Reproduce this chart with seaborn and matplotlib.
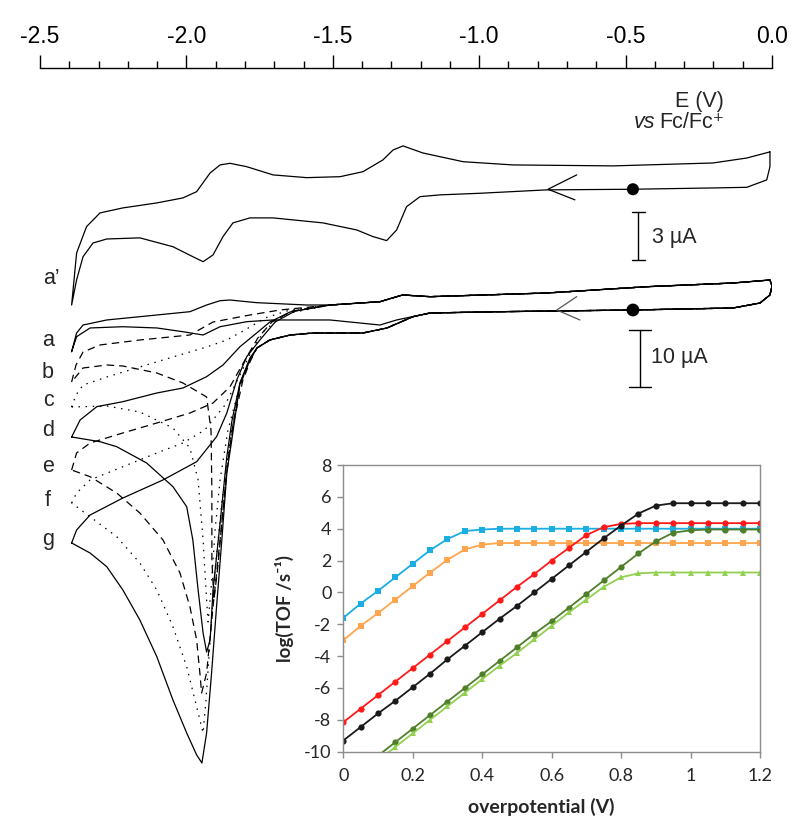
import numpy as np
import pandas as pd
import matplotlib
matplotlib.use("Agg")
import matplotlib.pyplot as plt
from matplotlib.ticker import FixedLocator, FixedFormatter
import seaborn as sns

sns.set_theme(style="white")
plt.rcParams["font.family"] = ["Liberation Sans", "DejaVu Sans"]
plt.rcParams["axes.unicode_minus"] = False

# ---------------- top potential axis (V vs Fc/Fc+) ----------------
E_ticks = [-2.5, -2.0, -1.5, -1.0, -0.5, 0.0]
E_tick_labels = ["-2.5", "-2.0", "-1.5", "-1.0", "-0.5", "0.0"]
E_minor = [-2.4, -2.3, -2.2, -2.1, -1.9, -1.8, -1.7, -1.6, -1.4, -1.3, -1.2, -1.1,
           -0.9, -0.8, -0.7, -0.6, -0.4, -0.3, -0.2, -0.1]

# ---------------- CV a' (current in uA, 3 uA scale) ----------------
a1_E = [-0.007, -0.086, -0.202, -0.543, -0.885, -1.055, -1.192, -1.260, -1.294, -1.329,
        -1.397, -1.475, -1.589, -1.704, -1.794, -1.851, -1.885, -1.919, -1.965, -2.012,
        -2.101, -2.217, -2.295, -2.341, -2.375, -2.392,
        -2.375, -2.353, -2.319, -2.272, -2.159, -2.046, -1.978, -1.943, -1.909, -1.875,
        -1.841, -1.783, -1.704, -1.534, -1.418, -1.363, -1.316, -1.282, -1.248, -1.202,
        -1.134, -0.997, -0.770, -0.475, -0.202, -0.086, -0.018, -0.007, -0.007]
a1_I = [2.32, 1.94, 1.63, 1.45, 1.51, 1.71, 2.25, 2.69, 2.44, 1.82,
        1.09, 0.78, 0.72, 0.89, 1.40, 1.61, 1.51, 1.01, -0.15, -0.54,
        -0.85, -1.16, -1.47, -2.32, -3.96, -7.19,
        -5.63, -4.19, -3.34, -3.09, -3.02, -3.57, -4.19, -4.50, -4.08, -2.94,
        -2.09, -1.78, -1.78, -2.09, -2.53, -2.94, -3.19, -2.53, -1.08, -0.46,
        -0.35, -0.25, -0.04, 0.00, 0.08, 0.12, 0.58, 1.40, 2.32]

# ---------------- CVs a-g (current in uA, 10 uA scale) ----------------
# shared anodic return path and cathodic start (curves overlap there)
ret_common_E = [-1.510, -1.339, -1.262, -1.168, -0.768, -0.427, -0.133, -0.007, 0.0, -0.007, -0.041]
ret_common_I = [0.88, 1.46, 2.65, 2.35, 3.00, 4.11, 4.76, 5.29, 4.23, 2.65, 1.23]
fwd_common_E = [-0.133, -0.475, -0.929, -1.168]
fwd_common_I = [0.35, 0.00, -0.30, -0.53]
fwd_wave_E = [-1.226, -1.315, -1.397, -1.568, -1.646, -1.715, -1.759]
fwd_wave_I = [-1.18, -3.17, -4.06, -4.06, -4.41, -5.29, -6.70]

a_ret_E = [-2.392, -2.375, -2.353, -2.272, -2.159, -1.988, -1.931, -1.885, -1.851, -1.760, -1.589]
a_ret_I = [-7.35, -4.06, -2.65, -1.76, -1.18, -0.30, 0.88, 1.64, 1.76, 1.29, 0.88]
a_fwd_E = [-1.282, -1.339, -1.510, -1.704, -1.794, -1.885, -1.943, -2.012, -2.101, -2.217, -2.329, -2.375, -2.392]
a_fwd_I = [-1.76, -2.65, -1.76, -1.76, -2.06, -2.95, -4.41, -3.83, -3.17, -2.95, -3.17, -4.71, -7.35]

b_ret_E = [-2.392, -2.377, -2.353, -2.295, -2.159, -1.988, -1.909, -1.783, -1.680]
b_ret_I = [-12.70, -9.70, -7.41, -6.17, -5.29, -4.41, -2.12, -0.88, 0.00]
b_fwd_E = [-1.783, -1.807, -1.837, -1.858, -1.875, -1.892, -1.906, -1.913, -1.913, -1.916, -1.931,
           -2.012, -2.101, -2.217, -2.272, -2.353, -2.392]
b_fwd_I = [-9.17, -12.35, -19.40, -26.46, -35.27, -44.97, -51.15, -44.09, -31.75, -21.16, -15.34,
           -12.87, -11.11, -9.88, -9.70, -10.23, -12.70]

c_ret_E = [-2.392, -2.377, -2.353, -2.272, -2.159, -2.046, -1.931, -1.862, -1.800, -1.732, -1.646]
c_ret_I = [-17.11, -14.99, -13.23, -11.82, -10.05, -8.29, -6.53, -5.29, -3.53, -1.41, 0.00]
c_fwd_E = [-1.783, -1.817, -1.858, -1.885, -1.902, -1.916, -1.926, -1.931, -1.943, -1.960, -1.988,
           -2.046, -2.159, -2.272, -2.392]
c_fwd_I = [-8.82, -13.23, -21.16, -29.98, -38.80, -49.38, -55.03, -51.15, -40.56, -29.98, -24.34,
           -20.81, -17.99, -16.93, -17.11]

d_ret_E = [-2.392, -2.363, -2.306, -2.217, -2.101, -2.012, -1.931, -1.875, -1.817, -1.760, -1.715, -1.646]
d_ret_I = [-22.40, -19.40, -17.05, -16.17, -14.64, -13.76, -11.76, -9.70, -6.47, -4.06, -2.12, -0.35]
d_fwd_E = [-1.783, -1.817, -1.844, -1.862, -1.885, -1.909, -1.919, -1.931, -1.943, -1.960, -1.978,
           -1.999, -2.046, -2.136, -2.238, -2.295, -2.392]
d_fwd_I = [-8.82, -12.87, -19.40, -25.87, -37.57, -49.38, -58.20, -60.32, -56.97, -49.38, -40.56,
           -34.69, -31.16, -26.98, -24.11, -23.23, -22.40]

e_ret_E = [-2.392, -2.375, -2.329, -2.217, -2.101, -1.988, -1.909, -1.851, -1.800, -1.756, -1.708, -1.639]
e_ret_I = [-28.22, -25.22, -23.46, -21.69, -19.93, -18.17, -16.40, -13.53, -8.82, -4.94, -2.12, -0.18]
e_fwd_E = [-1.783, -1.817, -1.844, -1.865, -1.885, -1.909, -1.931, -1.948, -1.954, -1.965, -1.988,
           -2.022, -2.080, -2.159, -2.238, -2.329, -2.392]
e_fwd_I = [-8.82, -13.23, -21.16, -29.98, -40.56, -52.33, -64.02, -67.55, -64.02, -58.20, -52.33,
           -46.38, -40.56, -35.80, -32.28, -29.40, -28.22]

f_ret_E = [-2.392, -2.375, -2.329, -2.217, -2.101, -2.012, -1.937, -1.868, -1.817, -1.776, -1.732, -1.663]
f_ret_I = [-34.04, -32.28, -29.98, -27.64, -25.22, -23.46, -21.16, -16.75, -11.46, -7.05, -3.53, -0.71]
f_fwd_E = [-1.783, -1.817, -1.851, -1.878, -1.902, -1.919, -1.933, -1.943, -1.965, -1.999, -2.046,
           -2.101, -2.159, -2.238, -2.329, -2.392]
f_fwd_I = [-8.82, -13.23, -22.93, -33.51, -45.86, -58.20, -68.78, -74.60, -69.96, -62.91, -55.85,
           -49.38, -44.62, -39.98, -36.46, -34.04]

g_ret_E = [-2.392, -2.375, -2.329, -2.217, -2.080, -1.965, -1.897, -1.862, -1.828, -1.794, -1.749, -1.697, -1.629]
g_ret_I = [-41.09, -38.80, -36.16, -33.16, -29.98, -26.76, -22.35, -18.17, -12.35, -8.24, -5.29, -2.12, -0.18]
g_fwd_E = [-1.783, -1.817, -1.845, -1.862, -1.879, -1.897, -1.914, -1.931, -1.947, -1.965, -1.999,
           -2.046, -2.101, -2.159, -2.217, -2.272, -2.329, -2.392]
g_fwd_I = [-8.47, -12.87, -22.93, -28.75, -40.56, -52.33, -64.02, -74.60, -79.89, -78.48, -74.60,
           -68.78, -61.15, -54.67, -49.38, -45.27, -42.86, -41.09]

start_E = -0.475            # starting potential (black dot)
scale_a1_uA = 3
scale_ag_uA = 10
cv_labels = ["a\u2019", "a", "b", "c", "d", "e", "f", "g"]

# ---------------- inset: log(TOF) vs overpotential ----------------
overpotential = [0.0, 0.05, 0.1, 0.15, 0.2, 0.25, 0.3, 0.35, 0.4, 0.45, 0.5, 0.55, 0.6,
                 0.65, 0.7, 0.75, 0.8, 0.85, 0.9, 0.95, 1.0, 1.05, 1.1, 1.15, 1.2]
tof_cyan = [-1.6, -0.7, 0.1, 0.95, 1.8, 2.65, 3.35, 3.85, 3.95, 4.0, 4.0, 4.0, 4.0,
            4.0, 4.0, 4.0, 4.0, 4.0, 4.0, 4.0, 4.0, 4.0, 4.0, 4.0, 4.0]
tof_orange = [-3.0, -2.1, -1.3, -0.45, 0.4, 1.25, 2.05, 2.7, 3.0, 3.1, 3.1, 3.1, 3.1,
              3.1, 3.1, 3.1, 3.1, 3.1, 3.1, 3.1, 3.1, 3.1, 3.1, 3.1, 3.1]
tof_red = [-8.15, -7.3, -6.45, -5.6, -4.75, -3.9, -3.05, -2.2, -1.35, -0.5, 0.35, 1.15, 2.0,
           2.8, 3.6, 4.1, 4.3, 4.35, 4.35, 4.35, 4.35, 4.35, 4.35, 4.35, 4.35]
tof_black = [-9.3, -8.45, -7.6, -6.8, -5.95, -5.1, -4.2, -3.35, -2.5, -1.65, -0.85, 0.0, 0.85,
             1.7, 2.55, 3.4, 4.2, 4.95, 5.45, 5.6, 5.6, 5.6, 5.6, 5.6, 5.6]
tof_dkgreen = [np.nan, np.nan, -10.25, -9.4, -8.55, -7.7, -6.85, -6.0, -5.15, -4.3, -3.45, -2.6, -1.8,
               -0.95, -0.1, 0.75, 1.6, 2.45, 3.2, 3.75, 3.9, 3.95, 3.95, 3.95, 3.95]
tof_ltgreen = [np.nan, np.nan, -10.55, -9.7, -8.85, -8.0, -7.15, -6.3, -5.45, -4.6, -3.8, -2.95, -2.1,
               -1.25, -0.45, 0.35, 0.95, 1.2, 1.25, 1.25, 1.25, 1.25, 1.25, 1.25, 1.25]
inset_xticks = [0.0, 0.2, 0.4, 0.6, 0.8, 1.0, 1.2]
inset_xticklabels = ["0", "0.2", "0.4", "0.6", "0.8", "1", "1.2"]
inset_yticks = [-10, -8, -6, -4, -2, 0, 2, 4, 6, 8]
inset_yticklabels = ["-10", "-8", "-6", "-4", "-2", "0", "2", "4", "6", "8"]

# ======================= figure =======================
W, H = 800, 831
fig = plt.figure(figsize=(W / 100, H / 100), dpi=100)


def fx(px):
    return px / W


def fy(py):
    return 1 - py / H


rect = [fx(40), fy(831), fx(772) - fx(40), fy(68) - fy(831)]
ax = fig.add_axes(rect)
ax.set_xlim(-2.5, 0.0)
ax.set_ylim(-91.89, 42.68)
ax.patch.set_alpha(0)
for s in ["left", "right", "bottom"]:
    ax.spines[s].set_visible(False)
ax.spines["top"].set_color("black")
ax.spines["top"].set_linewidth(1.0)
ax.xaxis.set_ticks_position("top")
ax.xaxis.set_major_locator(FixedLocator(E_ticks))
ax.xaxis.set_major_formatter(FixedFormatter(E_tick_labels))
ax.xaxis.set_minor_locator(FixedLocator(E_minor))
ax.tick_params(axis="x", which="major", direction="out", length=9.5, width=1.0, pad=5,
               labelsize=16.5, colors="black", top=True, bottom=False, labeltop=True, labelbottom=False)
ax.tick_params(axis="x", which="minor", direction="out", length=4.7, width=1.0,
               colors="black", top=True, bottom=False)
ax.set_yticks([])
ax.set_xlabel("")
ax.set_ylabel("")

ax2 = fig.add_axes(rect)
ax2.set_xlim(-2.5, 0.0)
ax2.set_ylim(-39.86, 7.53)
ax2.axis("off")
ax2.patch.set_alpha(0)

LW = 0.9
sns.lineplot(x=np.array(a1_E), y=np.array(a1_I), sort=False, estimator=None, ax=ax2,
             color="black", linewidth=LW)

dash = (0, (6, 4))
dot = (0, (1.2, 4.5))
curves = [
    (a_ret_E + ret_common_E + fwd_common_E + a_fwd_E, a_ret_I + ret_common_I + fwd_common_I + a_fwd_I, "-"),
    (b_ret_E + ret_common_E + fwd_common_E + fwd_wave_E + b_fwd_E, b_ret_I + ret_common_I + fwd_common_I + fwd_wave_I + b_fwd_I, dash),
    (c_ret_E + ret_common_E + fwd_common_E + fwd_wave_E + c_fwd_E, c_ret_I + ret_common_I + fwd_common_I + fwd_wave_I + c_fwd_I, dot),
    (d_ret_E + ret_common_E + fwd_common_E + fwd_wave_E + d_fwd_E, d_ret_I + ret_common_I + fwd_common_I + fwd_wave_I + d_fwd_I, "-"),
    (e_ret_E + ret_common_E + fwd_common_E + fwd_wave_E + e_fwd_E, e_ret_I + ret_common_I + fwd_common_I + fwd_wave_I + e_fwd_I, dash),
    (f_ret_E + ret_common_E + fwd_common_E + fwd_wave_E + f_fwd_E, f_ret_I + ret_common_I + fwd_common_I + fwd_wave_I + f_fwd_I, dot),
    (g_ret_E + ret_common_E + fwd_common_E + fwd_wave_E + g_fwd_E, g_ret_I + ret_common_I + fwd_common_I + fwd_wave_I + g_fwd_I, "-"),
]
for E, I, ls in curves:
    sns.lineplot(x=np.array(E), y=np.array(I), sort=False, estimator=None, ax=ax,
                 color="black", linewidth=LW, linestyle=ls)

# start markers
sns.scatterplot(x=[start_E], y=[0.0], ax=ax2, color="black", s=75, edgecolor="none", zorder=5)
sns.scatterplot(x=[start_E], y=[0.0], ax=ax, color="black", s=85, edgecolor="none", zorder=5)

# scan direction arrows
ax2.plot([-0.667, -0.765, -0.673], [0.89, 0.0, -0.66], color="black", lw=0.9)
ax.plot([-0.667, -0.735, -0.656], [2.35, 0.0, -1.76], color="#555555", lw=0.9)

# scale bars
xb1 = -0.4566
ax2.plot([xb1, xb1], [-1.39, -1.39 - scale_a1_uA], color="black", lw=1.0)
for yy in [-1.39, -1.39 - scale_a1_uA]:
    ax2.plot([xb1 - 0.023, xb1 + 0.023], [yy, yy], color="black", lw=1.0)
xb2 = -0.4508
ax.plot([xb2, xb2], [-3.53, -3.53 - scale_ag_uA], color="black", lw=1.0)
for yy in [-3.53, -3.53 - scale_ag_uA]:
    ax.plot([xb2 - 0.0365, xb2 + 0.0365], [yy, yy], color="black", lw=1.0)

fig.text(fx(652), fy(237), "3 \u00b5A", fontsize=15.5, ha="left", va="center")
fig.text(fx(651), fy(357), "10 \u00b5A", fontsize=15.5, ha="left", va="center")
fig.text(fx(699), fy(101), "E (V)", fontsize=15.5, ha="center", va="center")
fig.text(fx(655), fy(122), "vs", fontsize=15.5, ha="right", va="center", style="italic")
fig.text(fx(659), fy(122), "Fc/Fc\u207a", fontsize=15.5, ha="left", va="center")

# curve labels
label_y = [278, 341, 373, 401, 431, 466, 500, 540]
for lab, yy in zip(cv_labels, label_y):
    if lab == "a\u2019":
        fig.text(fx(43), fy(yy), lab, fontsize=15.5, ha="left", va="center")
    else:
        fig.text(fx(48), fy(yy), lab, fontsize=15.5, ha="center", va="center")

# ======================= inset =======================
ax_in = fig.add_axes([fx(343.3), fy(751.7), fx(760) - fx(343.3), fy(465) - fy(751.7)])
order = ["cyan", "orange", "red", "black", "dkgreen", "ltgreen"]
series_vals = {"cyan": tof_cyan, "orange": tof_orange, "red": tof_red,
               "black": tof_black, "dkgreen": tof_dkgreen, "ltgreen": tof_ltgreen}
df = pd.concat([pd.DataFrame({"eta": overpotential, "logTOF": series_vals[k], "series": k})
                for k in order], ignore_index=True)
palette = {"cyan": "#1AAEE3", "orange": "#FFA54F", "red": "#FF1A1A", "black": "#1a1a1a",
           "dkgreen": "#4F7F2B", "ltgreen": "#92D050"}
markers = {"cyan": "s", "orange": "s", "red": "o", "black": "o", "dkgreen": "o", "ltgreen": "^"}
sns.lineplot(data=df, x="eta", y="logTOF", hue="series", style="series", hue_order=order,
             style_order=order, palette=palette, markers=markers, dashes=False,
             estimator=None, sort=False, legend=False, ax=ax_in, linewidth=1.3,
             markersize=4.5, markeredgewidth=0)
ax_in.set_xlim(0, 1.2)
ax_in.set_ylim(-10, 8)
ax_in.set_facecolor("white")
for s in ax_in.spines.values():
    s.set_visible(True)
    s.set_color("#8C8C8C")
    s.set_linewidth(1.0)
inset_font = ["Lato", "DejaVu Sans"]
ax_in.set_xticks(inset_xticks, inset_xticklabels, fontsize=13, fontfamily=inset_font, color="#262626")
ax_in.set_yticks(inset_yticks, inset_yticklabels, fontsize=13, fontfamily=inset_font, color="#262626")
ax_in.tick_params(axis="both", which="major", direction="out", length=4.5, width=1.0,
                  color="#8C8C8C", left=True, bottom=True, top=False, right=False)
ax_in.tick_params(axis="x", pad=7)
ax_in.tick_params(axis="y", pad=4)
ax_in.set_xlabel("overpotential (V)", fontsize=14, fontweight="bold", fontfamily=inset_font)
ax_in.set_ylabel("log(TOF /s\u207b\u00b9)", fontsize=13.5, fontweight="bold", fontfamily=inset_font)
ax_in.xaxis.set_label_coords(0.476, -0.192)
ax_in.xaxis.label.set_va("center")
ax_in.yaxis.set_label_coords(-0.140, 0.50)
ax_in.yaxis.label.set_va("center")
ax_in.grid(False)

fig.savefig("out.png", dpi=100)
